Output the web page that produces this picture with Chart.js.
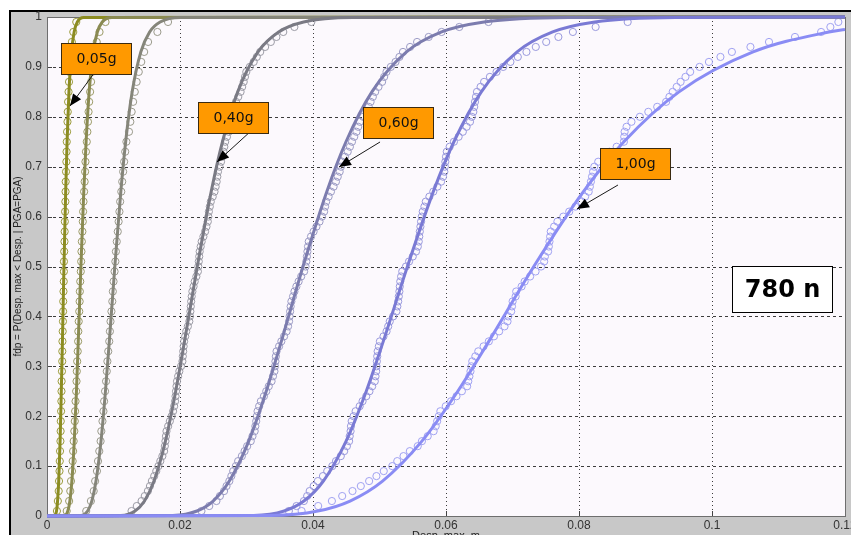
<!DOCTYPE html>
<html>
<head>
<meta charset="utf-8">
<script src="https://cdn.jsdelivr.net/npm/chart.js@4.4.1/dist/chart.umd.min.js"></script>
<style>
  html, body { margin: 0; padding: 0; background: #ffffff; overflow: hidden; width: 851px; height: 535px; }
  #figure { position: absolute; left: 9px; top: 10px; width: 900px; height: 600px; background: #c8c8c8;
            border-left: 2px solid #000; border-top: 2px solid #000; }
  #wrap { position: absolute; left: 0; top: 0; width: 880px; height: 550px; }
</style>
</head>
<body>
<div id="figure"></div>
<div id="wrap"><canvas id="c" width="880" height="550"></canvas></div>
<script>
// Axis ticks
const xTickValues = [0, 0.02, 0.04, 0.06, 0.08, 0.1, 0.12];
const xTickLabels = ['0', '0.02', '0.04', '0.06', '0.08', '0.1', '0.12'];
const yTickValues = [0, 0.1, 0.2, 0.3, 0.4, 0.5, 0.6, 0.7, 0.8, 0.9, 1];
const yTickLabels = ['0', '0.1', '0.2', '0.3', '0.4', '0.5', '0.6', '0.7', '0.8', '0.9', '1'];

// Probability levels of the fitted lognormal curves
const fitProb = [0, 0.001, 0.01, 0.03, 0.07, 0.15, 0.25, 0.35, 0.5, 0.65, 0.75, 0.85, 0.93, 0.97, 0.99, 0.999, 1];
const fitProbTop = [0, 0.001, 0.01, 0.03, 0.07, 0.15, 0.25, 0.35, 0.5, 0.65, 0.75, 0.85, 0.93, 0.97, 0.975];

// Fitted curves: max displacement (m) at each probability level
const fit005 = [0, 0.00118, 0.00143, 0.00159, 0.00176, 0.00197, 0.00215, 0.00232, 0.00255, 0.00281, 0.00302, 0.00330, 0.00369, 0.00408, 0.00456, 0.00552, 0.12];
const fit010 = [0, 0.00267, 0.00313, 0.00344, 0.00374, 0.00410, 0.00443, 0.00470, 0.00510, 0.00553, 0.00588, 0.00634, 0.00695, 0.00757, 0.00831, 0.00976, 0.12];
const fit020 = [0, 0.00517, 0.00611, 0.00674, 0.00737, 0.00812, 0.00879, 0.00937, 0.0102, 0.0111, 0.01183, 0.01281, 0.01411, 0.01543, 0.01701, 0.02013, 0.12];
const fit040 = [0, 0.01110, 0.01324, 0.01466, 0.01609, 0.01781, 0.01935, 0.02068, 0.0226, 0.02469, 0.02639, 0.02868, 0.03173, 0.03483, 0.03859, 0.04600, 0.12];
const fit060 = [0, 0.01892, 0.02255, 0.02498, 0.02742, 0.03034, 0.03297, 0.03524, 0.0385, 0.04207, 0.04496, 0.04886, 0.05406, 0.05934, 0.06573, 0.07836, 0.12];
const fit080 = [0, 0.03108, 0.03566, 0.03863, 0.04156, 0.04498, 0.04801, 0.05057, 0.0542, 0.05809, 0.06119, 0.06531, 0.07069, 0.07604, 0.08238, 0.09453, 0.12];
const fit100 = [0, 0.0336, 0.04073, 0.04557, 0.05046, 0.05638, 0.06177, 0.06644, 0.0732, 0.08066, 0.08675, 0.09504, 0.10618, 0.11759, 0.12];

// Empirical distribution points (simulated max displacement, m)
const empProb = [0.01, 0.03, 0.05, 0.07, 0.09, 0.11, 0.13, 0.15, 0.17, 0.19, 0.21, 0.23, 0.25, 0.27, 0.29, 0.31, 0.33, 0.35, 0.37, 0.39,
                 0.41, 0.43, 0.45, 0.47, 0.49, 0.51, 0.53, 0.55, 0.57, 0.59, 0.61, 0.63, 0.65, 0.67, 0.69, 0.71, 0.73, 0.75, 0.77, 0.79,
                 0.81, 0.83, 0.85, 0.87, 0.89, 0.91, 0.93, 0.95, 0.97, 0.99];
const empProbFine = [0.01, 0.02, 0.03, 0.04, 0.05, 0.06, 0.07, 0.08, 0.09, 0.10, 0.11, 0.12, 0.13, 0.14, 0.15, 0.16, 0.17, 0.18, 0.19, 0.20,
                     0.21, 0.22, 0.23, 0.24, 0.25, 0.26, 0.27, 0.28, 0.29, 0.30, 0.31, 0.32, 0.33, 0.34, 0.35, 0.36, 0.37, 0.38, 0.39, 0.40,
                     0.41, 0.42, 0.43, 0.44, 0.45, 0.46, 0.47, 0.48, 0.49, 0.50, 0.51, 0.52, 0.53, 0.54, 0.55, 0.56, 0.57, 0.58, 0.59, 0.60,
                     0.61, 0.62, 0.63, 0.64, 0.65, 0.66, 0.67, 0.68, 0.69, 0.70, 0.71, 0.72, 0.73, 0.74, 0.75, 0.76, 0.77, 0.78, 0.79, 0.80,
                     0.81, 0.82, 0.83, 0.84, 0.85, 0.86, 0.87, 0.88, 0.89, 0.90, 0.91, 0.92, 0.93, 0.94, 0.95, 0.96, 0.97, 0.98, 0.99];
const emp005 = [0.00149,0.00163,0.00176,0.00181,0.00188,0.00192,0.00196,0.00202,0.00205,0.00207,0.00212,0.00216,0.00218,0.00220,0.00225,0.00229,0.00230,0.00232,0.00236,0.00240,
                0.00242,0.00244,0.00248,0.00252,0.00254,0.00255,0.00259,0.00263,0.00266,0.00268,0.00272,0.00276,0.00279,0.00281,0.00286,0.00291,0.00294,0.00297,0.00302,0.00308,
                0.00312,0.00317,0.00324,0.00331,0.00338,0.00346,0.00358,0.00374,0.00395,0.00440];
const emp010 = [0.00296,0.00333,0.00350,0.00361,0.00376,0.00386,0.00393,0.00401,0.00411,0.00418,0.00423,0.00429,0.00438,0.00444,0.00448,0.00454,0.00462,0.00468,0.00471,0.00477,
                0.00485,0.00491,0.00494,0.00500,0.00508,0.00514,0.00518,0.00524,0.00532,0.00538,0.00543,0.00549,0.00558,0.00566,0.00573,0.00578,0.00586,0.00598,0.00607,0.00616,
                0.00625,0.00634,0.00648,0.00663,0.00678,0.00696,0.00718,0.00748,0.00790,0.00880];
const emp020 = [0.00590,0.00660,0.00702,0.00724,0.00751,0.00767,0.00786,0.00806,0.00817,0.00834,0.00849,0.00859,0.00873,0.00888,0.00899,0.00908,0.00921,0.00936,0.00946,0.00955,
                0.00969,0.00982,0.00990,0.01001,0.01016,0.01028,0.01036,0.01049,0.01064,0.01077,0.01089,0.01100,0.01117,0.01131,0.01145,0.01160,0.01176,0.01194,0.01233,0.01253,
                0.01273,0.01295,0.01320,0.01348,0.01380,0.01417,0.01461,0.0152,0.0166,0.0182];
const emp040 = [0.01271,0.01350,0.01422,0.01470,0.01517,0.01548,0.01577,0.01612,0.01643,0.01676,
                0.01704,0.01735,0.01761,0.01772,0.01781,0.01789,0.01797,0.01822,0.01847,0.01874,
                0.01896,0.01912,0.01926,0.01933,0.01940,0.01947,0.01955,0.01972,0.01990,0.02015,
                0.02036,0.02042,0.02048,0.02055,0.02062,0.02078,0.02094,0.02118,0.02140,0.02149,
                0.02156,0.02162,0.02168,0.02176,0.02186,0.02204,0.02221,0.02246,0.02269,0.02275,
                0.02282,0.02289,0.02296,0.02311,0.02326,0.02352,0.02377,0.02398,0.02418,0.02426,
                0.02434,0.02448,0.02463,0.02492,0.02519,0.02536,0.02551,0.02561,0.02571,0.02595,
                0.02617,0.02636,0.02654,0.02666,0.02679,0.02706,0.02733,0.02755,0.02775,0.02784,
                0.02794,0.02818,0.02842,0.02876,0.02911,0.02935,0.02958,0.02977,0.02997,0.03050,
                0.03108,0.03155,0.03206,0.03280,0.03366,0.03450,0.03553,0.03720,0.03975];
const emp060 = [0.02323,0.02440,0.02548,0.02600,0.02663,0.02700,0.02742,0.02772,0.02800,0.02840,
                0.02874,0.02930,0.02971,0.03010,0.03064,0.03090,0.03123,0.03133,0.03146,0.03155,
                0.03166,0.03190,0.03216,0.03262,0.03297,0.03335,0.03377,0.03398,0.03420,0.03428,
                0.03435,0.03442,0.03452,0.03490,0.03524,0.03565,0.03603,0.03625,0.03640,0.03648,
                0.03656,0.03664,0.03675,0.03700,0.03721,0.03750,0.03784,0.03822,0.03866,0.03888,
                0.03900,0.03908,0.03916,0.03925,0.03936,0.03970,0.04009,0.04052,0.04098,0.04135,
                0.04167,0.04182,0.04198,0.04235,0.04270,0.04310,0.04345,0.04372,0.04401,0.04420,
                0.04438,0.04480,0.04522,0.04555,0.04586,0.04620,0.04654,0.04680,0.04705,0.04755,
                0.04806,0.04838,0.04866,0.04900,0.04935,0.04985,0.05039,0.05070,0.05105,0.05170,
                0.05241,0.05300,0.05353,0.05460,0.05565,0.05740,0.05934,0.06200,0.06639];
const emp080 = [0.03637,0.03752,0.03863,0.03912,0.03950,0.04010,0.04073,0.04150,0.04214,0.04290,
                0.04346,0.04418,0.04469,0.04510,0.04543,0.04552,0.04565,0.04571,0.04582,0.04610,
                0.04641,0.04702,0.04745,0.04801,0.04849,0.04890,0.04929,0.04940,0.04950,0.04955,
                0.04960,0.04966,0.04972,0.04990,0.05006,0.05060,0.05106,0.05131,0.05154,0.05205,
                0.05254,0.05268,0.05281,0.05290,0.05299,0.05305,0.05312,0.05325,0.05342,0.05398,
                0.05444,0.05500,0.05549,0.05576,0.05590,0.05598,0.05606,0.05615,0.05625,0.05636,
                0.05650,0.05675,0.05696,0.05750,0.05809,0.05870,0.05926,0.05955,0.05975,0.05982,
                0.05990,0.06000,0.06012,0.06055,0.06119,0.06190,0.06253,0.06310,0.06361,0.06388,
                0.06411,0.06424,0.06436,0.06451,0.06466,0.06520,0.06573,0.06660,0.06760,0.06860,
                0.06969,0.07080,0.07210,0.07350,0.07507,0.07690,0.07908,0.08250,0.08732];
const emp100 = [0.03829,0.04078,0.04284,0.04439,0.04594,0.04719,0.04844,0.04954,0.05064,0.05192,
                0.05267,0.05361,0.05456,0.05575,0.05638,0.05725,0.05814,0.05845,0.05867,0.05891,
                0.05915,0.05996,0.06076,0.06158,0.06239,0.06318,0.06335,0.06352,0.06368,0.06382,
                0.06395,0.06441,0.06485,0.06565,0.06644,0.06721,0.06799,0.06880,0.06925,0.06936,
                0.06980,0.06992,0.07002,0.07047,0.07056,0.07137,0.07183,0.07265,0.07347,0.07430,
                0.07476,0.07487,0.07535,0.07546,0.07556,0.07566,0.07575,0.07626,0.07675,0.07764,
                0.07853,0.07946,0.08039,0.08092,0.08146,0.08163,0.08179,0.08196,0.08212,0.08230,
                0.08289,0.08394,0.08458,0.08566,0.08675,0.08680,0.08686,0.08715,0.08789,0.08915,
                0.09042,0.09176,0.09310,0.09360,0.09409,0.09469,0.09528,0.09601,0.09672,0.09813,
                0.09954,0.10127,0.10299,0.10578,0.10857,0.11248,0.11641,0.1178,0.1190];

// One entry per PGA level: fitted curve, empirical points and colours
const series = [
  { name: 'PGA 0,05g', fit: fit005, prob: fitProb,    emp: emp005, empP: empProb,     line: '#8c8c22', mark: '#9c9c3c' },
  { name: 'PGA 0,10g', fit: fit010, prob: fitProb,    emp: emp010, empP: empProb,     line: '#8a8a52', mark: '#9c9c68' },
  { name: 'PGA 0,20g', fit: fit020, prob: fitProb,    emp: emp020, empP: empProb,     line: '#85857a', mark: '#9b9b8c' },
  { name: 'PGA 0,40g', fit: fit040, prob: fitProb,    emp: emp040, empP: empProbFine, line: '#7a7a84', mark: '#9c9ca6' },
  { name: 'PGA 0,60g', fit: fit060, prob: fitProb,    emp: emp060, empP: empProbFine, line: '#7c7cae', mark: '#9c9cc6' },
  { name: 'PGA 0,80g', fit: fit080, prob: fitProb,    emp: emp080, empP: empProbFine, line: '#7a7ad4', mark: '#9a9ade' },
  { name: 'PGA 1,00g', fit: fit100, prob: fitProbTop, emp: emp100, empP: empProbFine, line: '#8a8cf4', mark: '#a0a2f2' }
];

const datasets = [];
series.forEach((s, i) => {
  datasets.push({
    label: s.name + ' (ajuste)',
    data: s.fit.map((x, k) => ({ x, y: s.prob[k] })),
    showLine: true, pointRadius: 0, borderColor: s.line, borderWidth: 3,
    cubicInterpolationMode: 'monotone', clip: 4, order: 10 - i
  });
  datasets.push({
    label: s.name,
    data: s.emp.map((x, k) => ({ x, y: s.empP[k] })),
    showLine: false, pointRadius: 3.6, pointBorderWidth: 1,
    pointBorderColor: s.mark, pointBackgroundColor: 'rgba(0,0,0,0)', clip: 5, order: 20 - i
  });
});

// Callout boxes with arrows, positioned in data coordinates
const callouts = [
  { text: '0,05g', box: [0.002105, 0.9479], tail: [0.00722, 0.8898], tip: [0.00346, 0.8216] },
  { text: '0,40g', box: [0.02271, 0.8297],  tail: [0.03083, 0.7735], tip: [0.02556, 0.7094] },
  { text: '0,60g', box: [0.04752, 0.8196],  tail: [0.05008, 0.7495], tip: [0.04391, 0.6994] },
  { text: '1,00g', box: [0.08316, 0.7375],  tail: [0.08586, 0.6633], tip: [0.0797, 0.6152] }
];
const sampleNote = { text: '780 n', box: [0.1030, 0.501] };

const plotDecor = {
  id: 'plotDecor',
  beforeDraw(chart) {
    const { ctx, chartArea: a } = chart;
    ctx.save();
    ctx.fillStyle = '#fcf9fd';
    ctx.fillRect(a.left, a.top, a.right - a.left, a.bottom - a.top);
    ctx.restore();
  },
  beforeDatasetsDraw(chart) {
    const { ctx, chartArea: a, scales: { x, y } } = chart;
    ctx.save();
    ctx.strokeStyle = '#3c3c3c';
    ctx.lineWidth = 1;
    // vertical dotted grid
    ctx.setLineDash([1, 3]);
    xTickValues.forEach(v => {
      const px = Math.round(x.getPixelForValue(v)) + 0.5;
      ctx.beginPath(); ctx.moveTo(px, a.top); ctx.lineTo(px, a.bottom); ctx.stroke();
    });
    // horizontal dashed grid
    ctx.setLineDash([3, 3]);
    yTickValues.forEach(v => {
      const py = Math.round(y.getPixelForValue(v)) + 0.5;
      ctx.beginPath(); ctx.moveTo(a.left, py); ctx.lineTo(a.right, py); ctx.stroke();
    });
    ctx.setLineDash([]);
    // inward tick marks
    ctx.strokeStyle = '#444';
    xTickValues.forEach(v => {
      const px = Math.round(x.getPixelForValue(v)) + 0.5;
      ctx.beginPath(); ctx.moveTo(px, a.bottom); ctx.lineTo(px, a.bottom - 5); ctx.stroke();
    });
    yTickValues.forEach(v => {
      const py = Math.round(y.getPixelForValue(v)) + 0.5;
      ctx.beginPath(); ctx.moveTo(a.left, py); ctx.lineTo(a.left + 5, py); ctx.stroke();
    });
    // axes box
    ctx.strokeStyle = '#6e6e6e';
    ctx.strokeRect(Math.round(a.left) + 0.5, Math.round(a.top) + 0.5, Math.round(a.right - a.left), Math.round(a.bottom - a.top));
    ctx.restore();
  },
  afterDraw(chart) {
    const { ctx, chartArea: a, scales: { x, y } } = chart;
    ctx.save();
    // callouts
    callouts.forEach(c => {
      const bx = Math.round(x.getPixelForValue(c.box[0]));
      const by = Math.round(y.getPixelForValue(c.box[1]));
      const tx = x.getPixelForValue(c.tail[0]), ty = y.getPixelForValue(c.tail[1]);
      const hx = x.getPixelForValue(c.tip[0]), hy = y.getPixelForValue(c.tip[1]);
      // arrow shaft
      ctx.strokeStyle = '#1a1a1a'; ctx.lineWidth = 1;
      ctx.beginPath(); ctx.moveTo(tx, ty); ctx.lineTo(hx, hy); ctx.stroke();
      // arrow head
      const ang = Math.atan2(hy - ty, hx - tx), len = 12, half = 5;
      const bxh = hx - len * Math.cos(ang), byh = hy - len * Math.sin(ang);
      ctx.fillStyle = '#000';
      ctx.beginPath();
      ctx.moveTo(hx, hy);
      ctx.lineTo(bxh + half * Math.sin(ang), byh - half * Math.cos(ang));
      ctx.lineTo(bxh - half * Math.sin(ang), byh + half * Math.cos(ang));
      ctx.closePath(); ctx.fill();
      // box
      ctx.fillStyle = '#ff9900';
      ctx.fillRect(bx, by, 71, 32);
      ctx.strokeStyle = '#3a2a10';
      ctx.strokeRect(bx + 0.5, by + 0.5, 70, 31);
      ctx.fillStyle = '#111';
      ctx.font = '14px "DejaVu Sans", Verdana, sans-serif';
      ctx.textAlign = 'center'; ctx.textBaseline = 'middle';
      ctx.fillText(c.text, bx + 35.5, by + 16.5);
    });
    // sample size note
    const nx = Math.round(x.getPixelForValue(sampleNote.box[0]));
    const ny = Math.round(y.getPixelForValue(sampleNote.box[1]));
    ctx.fillStyle = '#ffffff';
    ctx.fillRect(nx, ny, 101, 47);
    ctx.strokeStyle = '#000'; ctx.lineWidth = 1;
    ctx.strokeRect(nx + 0.5, ny + 0.5, 100, 46);
    ctx.fillStyle = '#000';
    ctx.font = 'bold 24px "DejaVu Sans", Verdana, sans-serif';
    ctx.textAlign = 'center'; ctx.textBaseline = 'middle';
    ctx.fillText(sampleNote.text, nx + 50.5, ny + 24.5);
    // axis titles
    ctx.fillStyle = '#222';
    ctx.font = '11px "Liberation Sans", Arial, sans-serif';
    ctx.textAlign = 'center'; ctx.textBaseline = 'top';
    ctx.fillText('Desp. max, m', (a.left + a.right) / 2, a.bottom + 14);
    ctx.translate(18, (a.top + a.bottom) / 2);
    ctx.rotate(-Math.PI / 2);
    ctx.textBaseline = 'middle';
    ctx.font = '10px "Liberation Sans", Arial, sans-serif';
    ctx.fillText('fdp = P(Desp. max < Desp. | PGA=PGA)', 0, 0);
    ctx.restore();
  }
};

const tickFont = { family: '"Liberation Sans", Arial, sans-serif', size: 12 };

new Chart(document.getElementById('c'), {
  type: 'scatter',
  data: { datasets },
  options: {
    responsive: false,
    animation: false,
    devicePixelRatio: 1,
    layout: { padding: { left: 0, top: 17, right: 35, bottom: 0 } },
    plugins: { legend: { display: false }, tooltip: { enabled: false } },
    scales: {
      x: {
        type: 'linear', min: 0, max: 0.12,
        afterBuildTicks(s) { s.ticks = xTickValues.map(v => ({ value: v })); },
        afterFit(s) { s.height = 34; },
        ticks: { callback: (v, i) => xTickLabels[i], font: tickFont, color: '#333', padding: 2, maxRotation: 0, autoSkip: false },
        grid: { display: false, drawTicks: false },
        border: { display: false }
      },
      y: {
        type: 'linear', min: 0, max: 1,
        afterBuildTicks(s) { s.ticks = yTickValues.map(v => ({ value: v })); },
        afterFit(s) { s.width = 47; },
        ticks: { callback: (v, i) => yTickLabels[i], font: tickFont, color: '#333', padding: 5, autoSkip: false },
        grid: { display: false, drawTicks: false },
        border: { display: false }
      }
    }
  },
  plugins: [plotDecor]
});
</script>
</body>
</html>
